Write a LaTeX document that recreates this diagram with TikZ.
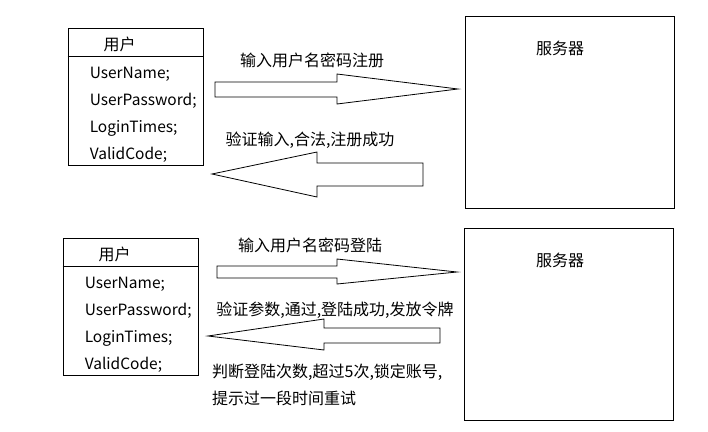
\documentclass[tikz,border=0pt]{standalone}
\usepackage{fontspec}
\setmainfont{Noto Sans CJK SC}
\usetikzlibrary{positioning}
\tikzset{
  cls/.style={draw, line width=0.9pt, minimum width=135pt, minimum height=137pt, inner sep=0pt},
  srv/.style={draw, line width=0.9pt, minimum width=209pt, minimum height=192pt, inner sep=0pt},
  fld/.style={anchor=west, inner sep=0pt, font=\fontsize{15.5}{18}\selectfont},
  lbl/.style={inner sep=0pt, font=\fontsize{16}{18}\selectfont},
  blk/.style={draw, line width=0.8pt, line join=miter},
}
\begin{document}
\begin{tikzpicture}[x=1pt,y=-1pt]
    \useasboundingbox (0,0) rectangle (708,431);
    % user classes
    \node[cls] (c1) at (135.5,96.5) {};
    \node[cls] (c2) at (130.5,306.5) {};
    \foreach \c in {c1,c2} {
      \draw[line width=0.9pt] (\c.north west) ++(0,29) -- ++(135,0);
      \node[lbl] (\c h) at ([shift={(52,17)}]\c.north west) {用户};
      \foreach \f [count=\i] in {UserName;,UserPassword;,LoginTimes;,ValidCode;}
        \node[fld] (\c f\i) at ([shift={(22,20+\i*26.8)}]\c.north west) {\f};
    }
    % servers
    \node[srv] (s1) at (569.5,112) {};
    \node[srv] (s2) at (568.5,324) {};
    \node[lbl] (s1t) at (560,48) {服务器};
    \node[lbl] (s2t) at (560,260) {服务器};
    % block arrows
    \draw[blk] (215,82) -- (337,82) -- (337,74) -- (458,89) -- (337,104) -- (337,97) -- (215,97) -- cycle;
    \draw[blk] (423,163) -- (317,163) -- (317,152) -- (212,174) -- (317,197) -- (317,186) -- (423,186) -- cycle;
    \draw[blk] (217,266) -- (337,266) -- (337,259) -- (457,272) -- (337,284) -- (337,278) -- (217,278) -- cycle;
    \draw[blk] (440,328) -- (324,328) -- (324,319) -- (208,336) -- (324,350) -- (324,343) -- (440,343) -- cycle;
    % labels
    \node[lbl] (t1) at (312,60) {输入用户名密码注册};
    \node[lbl] (t2) at (310,140) {验证输入,合法,注册成功};
    \node[lbl] (t3) at (310,245) {输入用户名密码登陆};
    \node[lbl] (t4) at (335,310) {验证参数,通过,登陆成功,发放令牌};
    \node[lbl, anchor=west] (t5) at (212,372) {判断登陆次数,超过5次,锁定账号,};
    \node[lbl, anchor=west] (t6) at (212,398) {提示过一段时间重试};
\end{tikzpicture}
\end{document}
